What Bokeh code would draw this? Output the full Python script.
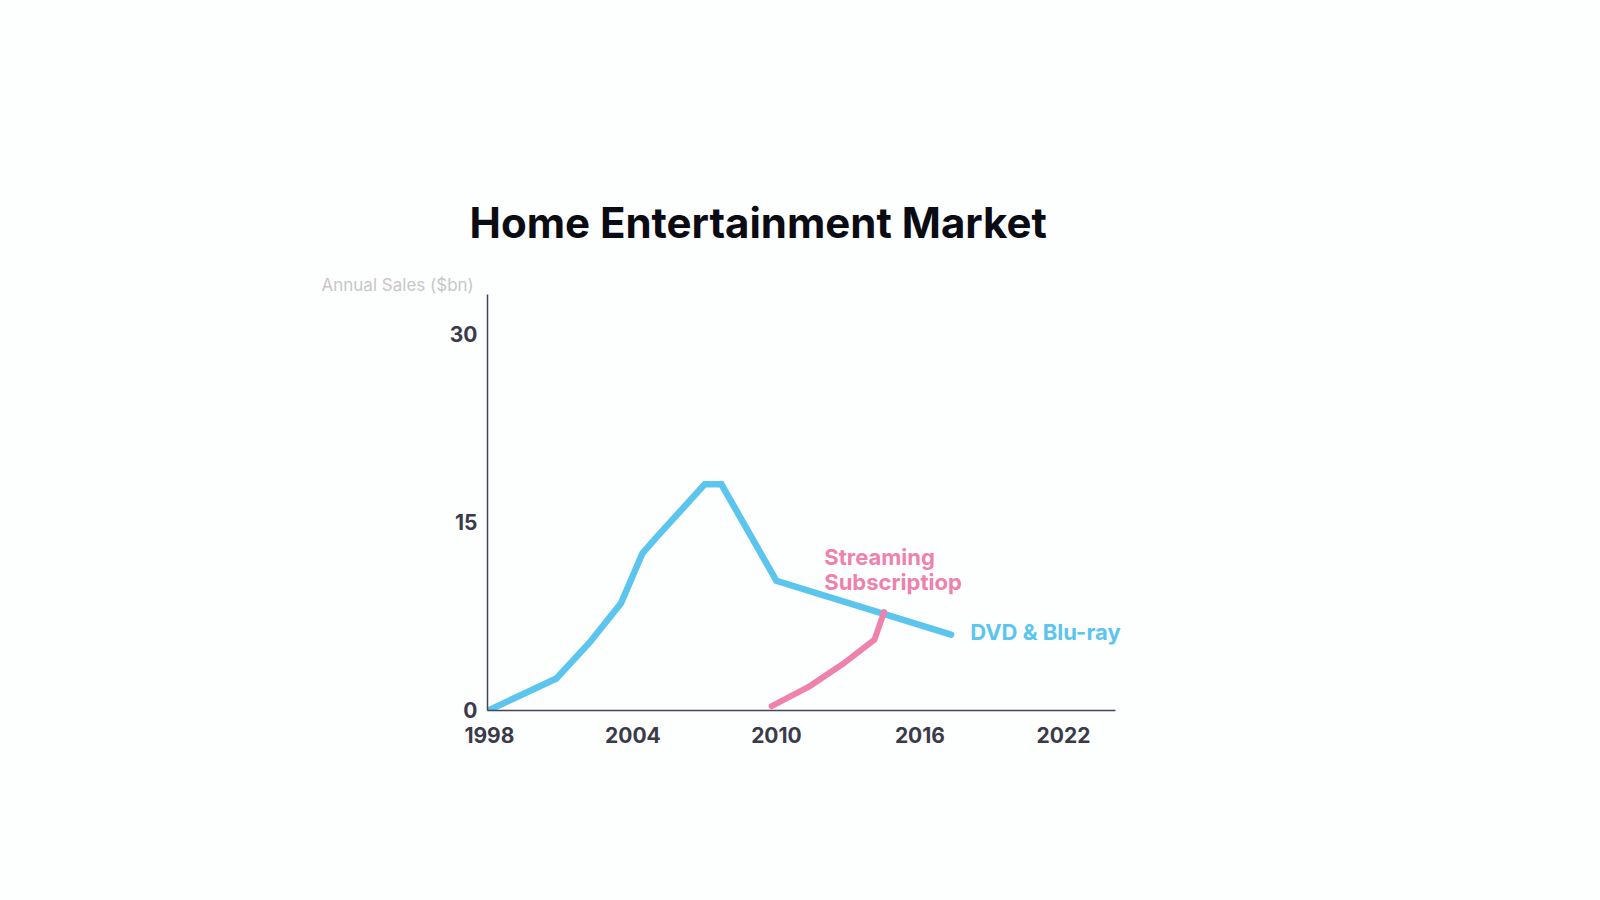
from bokeh.plotting import figure
from bokeh.models import Label, FixedTicker, Title
from bokeh.embed import file_html
from bokeh.resources import INLINE

# Data
dvd_years = [1998, 2000.8, 2002.2, 2003.5, 2004.4, 2005.0, 2007.0, 2007.7, 2010.0, 2017.3]
dvd_sales = [0.0, 2.5, 5.4, 8.5, 12.5, 13.8, 18.0, 18.0, 10.3, 6.0]
stream_years = [2009.8, 2011.4, 2012.8, 2014.1, 2014.5]
stream_sales = [0.3, 1.9, 3.7, 5.6, 7.8]
x_ticks = [1998, 2004, 2010, 2016, 2022]
y_ticks = [0, 15, 30]

FONT = "Inter"
BLUE = "#5cc5ee"
PINK = "#ee82ad"
AXIS = "#4a4258"

p = figure(width=1600, height=900, output_backend="svg", toolbar_location=None,
           x_range=(1997.92, 2030.03), y_range=(-0.05, 33.15),
           min_border_left=487, min_border_right=345, min_border_top=294, min_border_bottom=190)
p.background_fill_color = "#fdfefe"
p.border_fill_color = "#fdfefe"
p.outline_line_color = None
p.grid.visible = False

for ax in (p.xaxis[0], p.yaxis[0]):
    ax.axis_line_color = AXIS
    ax.axis_line_width = 1.5
    ax.major_tick_line_color = None
    ax.minor_tick_line_color = None
    ax.major_tick_out = 0
    ax.major_tick_in = 0
    ax.major_label_text_font = FONT
    ax.major_label_text_font_style = "bold"
    ax.major_label_text_font_size = "21px"
    ax.major_label_text_color = "#3b3a4a"

p.xaxis.bounds = (1997.92, 2024.17)
p.xaxis.ticker = FixedTicker(ticks=x_ticks)
p.yaxis.ticker = FixedTicker(ticks=y_ticks)
p.xaxis.major_label_standoff = 16
p.yaxis.major_label_standoff = 10

p.line(dvd_years, dvd_sales, line_color=BLUE, line_width=6.5, line_join="miter", line_cap="round")
p.line(stream_years, stream_sales, line_color=PINK, line_width=6, line_join="miter", line_cap="round")

p.add_layout(Title(text="Annual Sales ($bn)", align="left", offset=-166, standoff=0,
                   text_font=FONT, text_font_style="normal", text_font_size="17px",
                   text_color="#c9c6c8"), "above")
p.add_layout(Title(text="Home Entertainment Market", align="left", offset=-18, standoff=50,
                   text_font=FONT, text_font_style="bold", text_font_size="42px",
                   text_color="#0b0b14"), "above")

p.add_layout(Label(x=2018.1, y=6.2, text="DVD & Blu-ray", text_font=FONT,
                   text_font_style="bold", text_font_size="22px", text_color=BLUE,
                   text_align="left", text_baseline="middle"))
p.add_layout(Label(x=2012.0, y=12.2, text="Streaming", text_font=FONT,
                   text_font_style="bold", text_font_size="22px", text_color=PINK,
                   text_align="left", text_baseline="middle"))
p.add_layout(Label(x=2012.0, y=10.2, text="Subscriptiop", text_font=FONT,
                   text_font_style="bold", text_font_size="22px", text_color=PINK,
                   text_align="left", text_baseline="middle"))

open("out.html", "w").write(file_html(p, INLINE))
